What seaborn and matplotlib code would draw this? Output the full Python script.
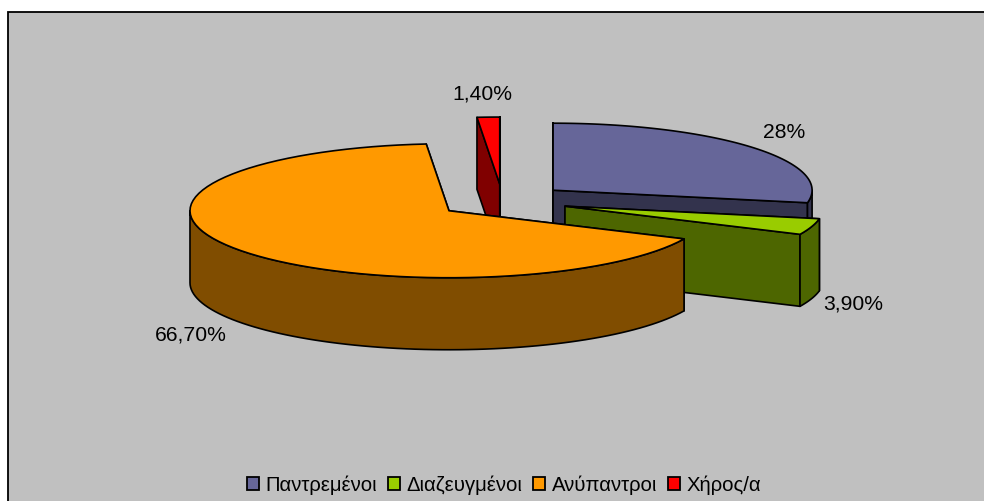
"""
3D exploded pie: marital status shares (drawn on a pixel-sized axes).
"""

import numpy as np
import matplotlib
matplotlib.use('Agg')
import matplotlib.pyplot as plt
from matplotlib.patches import Rectangle, Patch
import seaborn as sns

sns.set_style('white')
plt.rcParams['font.family'] = ['Liberation Sans', 'DejaVu Sans']

# ── Data ──────────────────────────────────────────────────────────────────────
categories = ['Παντρεμένοι', 'Διαζευγμένοι', 'Ανύπαντροι', 'Χήρος/α']
values = [28, 3.9, 66.7, 1.4]
value_labels = ['28%', '3,90%', '66,70%', '1,40%']
slice_colors = ['#666699', '#99CC00', '#FF9900', '#FF0000']

# ── Pie geometry (pixels) ─────────────────────────────────────────────────────
CX, CY = 502.6, 201        # pie centre before explosion
RX, RY = 259, 67           # top ellipse
DEPTH = 72
EXPLODE = 0.253
EDGE = dict(edgecolor='black', linewidth=1.2, joinstyle='round')
GREY = '#C0C0C0'

label_pos = [(784, 132), (853, 304), (191, 335), (482, 94)]
draw_order = [0, 3, 1, 2]

palette = sns.color_palette(slice_colors)
dark = [tuple(c * 0.5 for c in col) for col in palette]

fig = plt.figure(figsize=(9.84, 5.01), dpi=100, facecolor='white')
ax = fig.add_axes([0, 0, 1, 1])
ax.set_xlim(0, 984)
ax.set_ylim(501, 0)
ax.axis('off')

ax.add_patch(Rectangle((7.5, 11.5), 990, 500, facecolor=GREY,
                       edgecolor='black', linewidth=1.3))


def arc(x0, y0, a, b):
    t = np.radians(np.linspace(a, b, 80))
    return x0 + RX * np.sin(t), y0 - RY * np.cos(t)


def radial_face(x0, y0, ang, color):
    x1, y1 = arc(x0, y0, ang, ang)
    xs = [x0, x1[0], x1[0], x0]
    ys = [y0, y1[0], y1[0] + DEPTH, y0 + DEPTH]
    ax.fill(xs, ys, facecolor=color, **EDGE)


# ── Slices ────────────────────────────────────────────────────────────────────
ends = np.cumsum(values) / np.sum(values) * 360
starts = np.concatenate([[0], ends[:-1]])

for i in draw_order:
    a, b = starts[i], ends[i]
    mid = np.radians((a + b) / 2)
    x0 = CX + EXPLODE * RX * np.sin(mid)
    y0 = CY - EXPLODE * RY * np.cos(mid)

    radial_face(x0, y0, a, dark[i])
    radial_face(x0, y0, b, dark[i])

    # outer rim, only the front half of the ellipse shows
    ra, rb = max(a, 90), min(b, 270)
    if ra < rb:
        rx, ry = arc(x0, y0, ra, rb)
        ax.fill(np.r_[rx, rx[::-1]], np.r_[ry, ry[::-1] + DEPTH],
                facecolor=dark[i], **EDGE)

    tx, ty = arc(x0, y0, a, b)
    ax.fill(np.r_[x0, tx], np.r_[y0, ty], facecolor=palette[i], **EDGE)

# ── Value labels ──────────────────────────────────────────────────────────────
for txt, (lx, ly) in zip(value_labels, label_pos):
    ax.text(lx, ly, txt, ha='center', va='center', fontsize=15.2, color='black')

# ── Legend ────────────────────────────────────────────────────────────────────
handles = [Patch(facecolor=c, edgecolor='black', linewidth=1.3) for c in palette]
ax.legend(handles, categories, ncol=4, loc='center',
          bbox_to_anchor=(504, 485), bbox_transform=ax.transData,
          frameon=False, fontsize=14.6, labelcolor='black',
          handlelength=0.6, handleheight=0.6,
          handletextpad=0.3, columnspacing=0.55, borderpad=0)

plt.savefig('out.png', dpi=100, facecolor='white')
plt.close()
